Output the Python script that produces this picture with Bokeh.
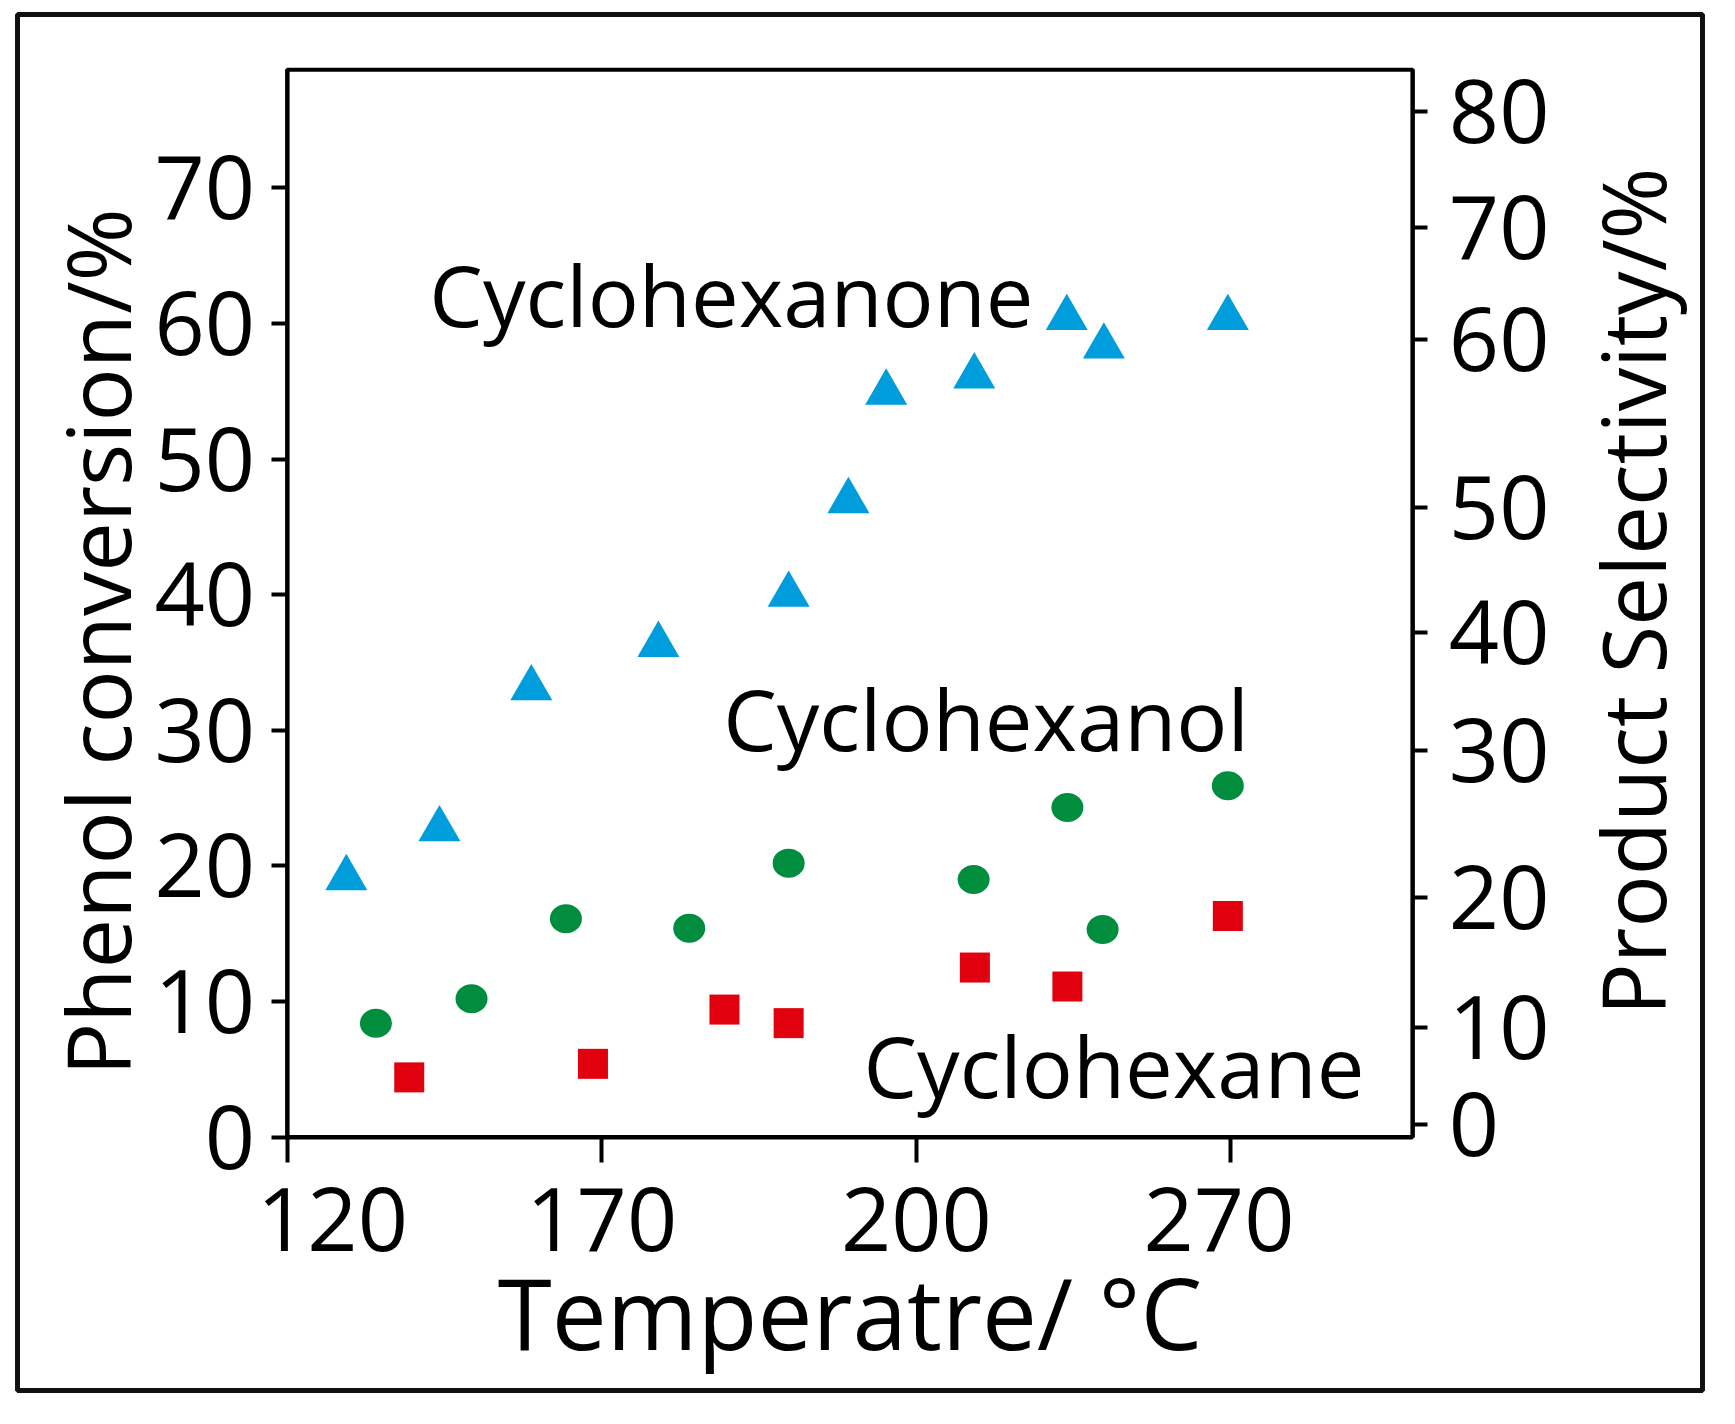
import math
from bokeh.plotting import figure
from bokeh.models import Range1d, LinearAxis, FixedTicker, Label, BoxAnnotation
from bokeh.core.properties import value
from bokeh.embed import file_html
from bokeh.resources import INLINE

# ---------------- data ----------------
# x positions are in axis units where the four ticks are evenly spaced
x_ticks = [120, 170, 220, 270]
x_tick_labels = ["120", "170", "200", "270"]
# where the original centres those four labels (first one sits right of its tick)
x_label_pos = [127.2, 170, 220, 268.1]

y_left_ticks = [0, 10, 20, 30, 40, 50, 60, 70]

# right axis ticks are unevenly spaced in the original; positions in left-axis units
right_tick_pos = [0.9, 8.1, 17.7, 28.5, 37.2, 46.4, 58.8, 67.1, 75.6]
right_tick_labels = ["0", "10", "20", "30", "40", "50", "60", "70", "80"]

anone_x = [129.4, 144.2, 158.8, 179.0, 199.7, 209.2, 215.2, 229.2, 243.9, 249.8, 269.5]
anone_y = [19.1, 22.7, 33.1, 36.3, 40.0, 46.9, 54.9, 56.1, 60.4, 58.3, 60.4]

anol_x = [134.1, 149.3, 164.3, 183.9, 199.7, 229.1, 244.0, 249.6, 269.5]
anol_y = [8.4, 10.2, 16.1, 15.4, 20.2, 19.0, 24.3, 15.3, 25.9]

ane_x = [139.4, 168.6, 189.5, 199.7, 229.3, 244.0, 269.5]
ane_y = [4.4, 5.4, 9.4, 8.4, 12.5, 11.1, 16.3]

ann_text = ["Cyclohexanone", "Cyclohexanol", "Cyclohexane"]
ann_x = [142.6, 189.3, 211.6]
ann_y = [62.2, 30.9, 5.3]

left_title = "Phenol conversion/%"
right_title = "Product Selectivity/%"
x_title = "Temperatre/ °C"

# plot box (axis extents) and the wider view that also holds the outer frame
X0, X1 = 120, 298.9
Y0, Y1 = 0, 78.7
VIEW_X = (77.14, 344.94)
VIEW_Y = (-18.69, 82.78)

# ---------------- style ----------------
FONT = "Open Sans"
BLUE = "#009DDC"
GREEN = "#008D3D"
RED = "#E0000E"
INK = "#000000"

W, H = 1719, 1404
p = figure(width=W, height=H, output_backend="svg", toolbar_location=None,
           x_range=Range1d(*VIEW_X), y_range=Range1d(*VIEW_Y),
           min_border_left=17, min_border_right=17, min_border_top=14,
           min_border_bottom=14)

p.grid.visible = False
# the frame outline is the outer border of the picture
p.outline_line_color = "#111111"
p.outline_line_width = 5
p.outline_line_alpha = 1.0
p.background_fill_color = "white"
p.border_fill_color = "white"

# inner plot box
p.add_layout(BoxAnnotation(left=X0, right=X1, bottom=Y0, top=Y1,
                           fill_color=None, fill_alpha=0,
                           line_color=INK, line_alpha=1.0, line_width=4))

# x axis: line and tick marks
xa = p.xaxis[0]
xa.fixed_location = Y0
xa.bounds = (X0, X1)
xa.ticker = FixedTicker(ticks=x_ticks)
xa.major_label_text_color = None

# x axis: tick labels and title
xl = LinearAxis(fixed_location=Y0, bounds=(X0, X1))
xl.ticker = FixedTicker(ticks=x_label_pos)
xl.major_label_overrides = {t: l for t, l in zip(x_label_pos, x_tick_labels)}
xl.axis_line_color = None
xl.major_tick_line_color = None
xl.axis_label = x_title
p.add_layout(xl, "below")

# left axis
ya = p.yaxis[0]
ya.fixed_location = X0
ya.bounds = (Y0, Y1)
ya.ticker = FixedTicker(ticks=y_left_ticks)

# right axis
ra = LinearAxis(fixed_location=X1, bounds=(Y0, Y1))
ra.ticker = FixedTicker(ticks=right_tick_pos)
ra.major_label_overrides = {t: l for t, l in zip(right_tick_pos, right_tick_labels)}
p.add_layout(ra, "right")

for ax in (xa, xl, ya, ra):
    if ax is not xl:
        ax.axis_line_width = 4
        ax.axis_line_color = INK
        ax.major_tick_line_width = 4
        ax.major_tick_line_color = INK
    ax.minor_tick_line_color = None
    ax.major_tick_in = 0
    ax.major_label_text_font = FONT
    ax.major_label_text_font_size = "88px"
    if ax is not xa:
        ax.major_label_text_color = INK
    ax.axis_label_text_font = FONT
    ax.axis_label_text_font_style = "normal"
    ax.axis_label_text_color = INK

xa.major_tick_out = 25
xl.major_tick_out = 25
xl.major_label_standoff = 26
xl.axis_label_text_font_size = "98px"
xl.axis_label_standoff = -10

ya.major_tick_out = 16
ya.major_label_standoff = 16

ra.major_tick_out = 15
ra.major_label_standoff = 21

# vertical axis titles (both read bottom-to-top, as in the original)
p.add_layout(Label(x=89.7, y=36.5, text=left_title, angle=math.pi / 2,
                   text_font=FONT, text_font_size="88.5px", text_color=INK,
                   text_align="center", text_baseline="alphabetic"))
p.add_layout(Label(x=333.66, y=40.23, text=right_title, angle=math.pi / 2,
                   text_font=FONT, text_font_size="87px", text_color=INK,
                   text_align="center", text_baseline="alphabetic"))

# ---------------- marks ----------------
p.scatter(anone_x, anone_y, marker="triangle", size=42, fill_color=BLUE, line_color=None)
p.ellipse(anol_x, anol_y, width=32, height=29, width_units="screen", height_units="screen",
          fill_color=GREEN, line_color=None)
p.scatter(ane_x, ane_y, marker="square", size=30, fill_color=RED, line_color=None)

p.text(ann_x, ann_y, text=ann_text, text_font=value(FONT), text_font_size="85px",
       text_color=INK, text_align="left", text_baseline="alphabetic")

open("out.html", "w").write(file_html(p, INLINE))
